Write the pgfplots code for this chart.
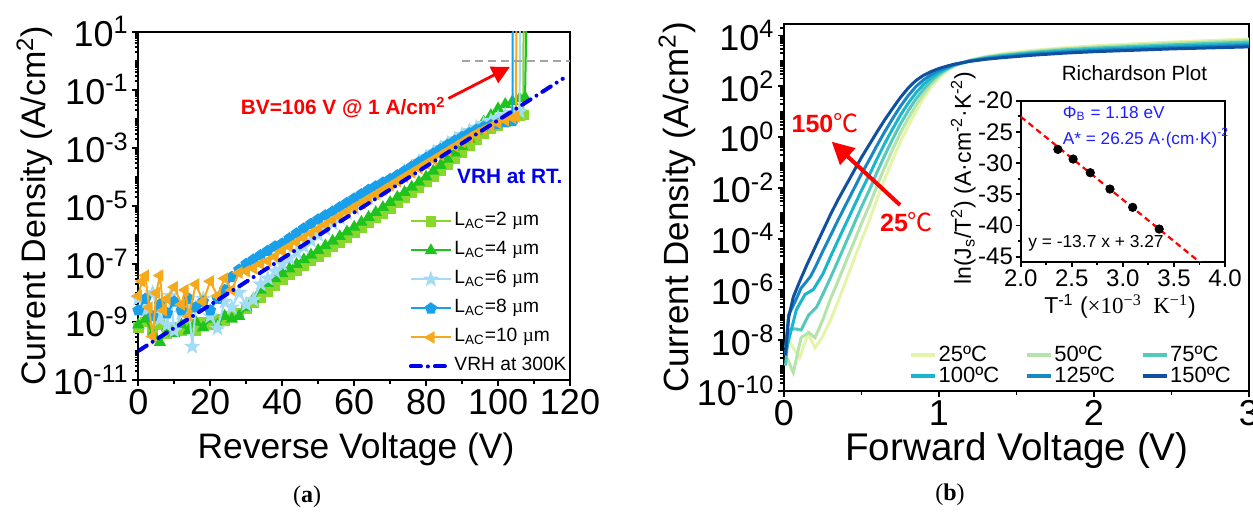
\documentclass[border=0pt]{standalone}
\usepackage{pgfplots}
\pgfplotsset{compat=1.18}
\usepackage{fontspec}
\setmainfont{Liberation Sans}
\newfontfamily\serif{Liberation Serif}
\newfontfamily\cjk{Noto Sans CJK SC}
\usetikzlibrary{arrows.meta}

\definecolor{cTwo}{RGB}{135,215,45}
\definecolor{cFour}{RGB}{30,195,30}
\definecolor{cSix}{RGB}{165,220,245}
\definecolor{cEight}{RGB}{25,160,235}
\definecolor{cTen}{RGB}{245,170,30}
\definecolor{vrh}{RGB}{0,0,235}
\definecolor{tA}{RGB}{228,245,170}
\definecolor{tB}{RGB}{180,228,170}
\definecolor{tC}{RGB}{85,200,190}
\definecolor{tD}{RGB}{25,180,205}
\definecolor{tE}{RGB}{25,135,195}
\definecolor{tF}{RGB}{15,80,160}
\definecolor{annred}{RGB}{255,0,0}
\definecolor{txtblue}{RGB}{30,30,255}
\definecolor{dgray}{RGB}{165,165,165}

% filled five-point star
\pgfdeclareplotmark{fstar}{%
  \pgfpathmoveto{\pgfpointpolar{90}{1.2\pgfplotmarksize}}%
  \pgfpathlineto{\pgfpointpolar{126}{0.5\pgfplotmarksize}}%
  \pgfpathlineto{\pgfpointpolar{162}{1.2\pgfplotmarksize}}%
  \pgfpathlineto{\pgfpointpolar{198}{0.5\pgfplotmarksize}}%
  \pgfpathlineto{\pgfpointpolar{234}{1.2\pgfplotmarksize}}%
  \pgfpathlineto{\pgfpointpolar{270}{0.5\pgfplotmarksize}}%
  \pgfpathlineto{\pgfpointpolar{306}{1.2\pgfplotmarksize}}%
  \pgfpathlineto{\pgfpointpolar{342}{0.5\pgfplotmarksize}}%
  \pgfpathlineto{\pgfpointpolar{18}{1.2\pgfplotmarksize}}%
  \pgfpathlineto{\pgfpointpolar{54}{0.5\pgfplotmarksize}}%
  \pgfpathclose\pgfusepathqfillstroke}

% log-style minor ticks (axes hold log10 of the current density)
\def\minA{-11}
\foreach \n in {-11,...,0}{\foreach \k in {0.301,0.477,0.602,0.699,0.778,0.845,0.903,0.954,1}{\pgfmathparse{\n+\k}\xdef\minA{\minA,\pgfmathresult}}}
\def\minB{-10}
\foreach \n in {-10,...,4}{\foreach \k in {0.301,0.477,0.602,0.699,0.778,0.845,0.903,0.954,1}{\pgfmathparse{\n+\k}\xdef\minB{\minB,\pgfmathresult}}}

\pgfplotsset{
  frame/.style={
    scale only axis, anchor=south west,
    tick pos=left, tick align=outside,
    major tick length=3pt, minor tick length=1.8pt,
    every tick/.style={black, line width=0.9pt},
    axis line style={line width=1.1pt},
    /pgf/number format/assume math mode=true,
    clip mode=individual,
  },
}

\begin{document}
\begin{tikzpicture}
\useasboundingbox (0,0) rectangle (626.5pt,255.5pt);

% ---------------- (a) reverse ----------------
\begin{axis}[frame,
  at={(69.15pt,65.5pt)}, width=215.85pt, height=174.15pt,
  xmin=0, xmax=120, ymin=-11, ymax=1,
  xtick={0,20,...,120}, minor x tick num=1,
  ytick={-11,-9,-7,-5,-3,-1,1},
  yticklabels={10\textsuperscript{-11},10\textsuperscript{-9},10\textsuperscript{-7},10\textsuperscript{-5},10\textsuperscript{-3},10\textsuperscript{-1},10\textsuperscript{1}},
  minor ytick/.expanded={\minA},
  tick label style={font=\fontsize{18}{20}\selectfont, inner sep=1.6pt},
  legend cell align=left,
  legend style={draw=none, fill=none, at={(0.612,0.5)}, anchor=north west,
    font=\fontsize{9.6}{11}\selectfont, row sep=3.3pt,
    nodes={inner sep=0.8pt, text height=7pt, text depth=2.6pt}},
  legend image code/.code={\draw[mark repeat=2,mark phase=2,#1] plot coordinates {(0pt,0pt) (10pt,0pt) (20pt,0pt)};},
]
\addplot[color=cTwo, line width=1pt, mark=square*, mark size=2.2pt, mark options={solid, fill=cTwo}] table {
0 -9.2
2 -9.0
4 -9.3
6 -9.1
8 -9.4
10 -9.2
12 -9.3
14 -9.1
16 -9.3
18 -9.0
20 -9.1
22 -8.9
24 -8.95
26 -8.8
28 -8.7
30 -8.55
32 -8.35
34 -8.15
36 -7.95
38 -7.75
40 -7.55
42 -7.38
44 -7.22
46 -7.06
48 -6.9
50 -6.74
52 -6.58
54 -6.42
56 -6.26
58 -6.1
60 -5.93
62 -5.76
64 -5.59
66 -5.42
68 -5.25
70 -5.08
72 -4.9
74 -4.72
76 -4.54
78 -4.36
80 -4.18
82 -3.98
84 -3.78
86 -3.57
88 -3.36
90 -3.15
92 -2.93
94 -2.72
96 -2.52
98 -2.35
100 -2.22
102 -2.1
104 -2.0
106 -1.9
107 -1.87
107.1 1.5
};
\addlegendentry{L\textsubscript{AC}=2 {\serif µ}m}
\addplot[color=cFour, line width=1pt, mark=triangle*, mark size=2.6pt, mark options={solid, fill=cFour}] table {
0 -9.1
2 -8.9
4 -9.4
6 -9.7
8 -9.2
10 -9.4
12 -9.1
14 -9.3
16 -9.0
18 -9.2
20 -8.9
22 -9.1
24 -8.8
26 -8.9
28 -8.8
30 -8.5
32 -8.2
34 -7.9
36 -7.67
38 -7.5
40 -7.33
42 -7.17
44 -7.01
46 -6.85
48 -6.69
50 -6.53
52 -6.37
54 -6.21
56 -6.05
58 -5.89
60 -5.73
62 -5.56
64 -5.39
66 -5.22
68 -5.05
70 -4.88
72 -4.7
74 -4.53
76 -4.35
78 -4.18
80 -4.0
82 -3.8
84 -3.6
86 -3.39
88 -3.17
90 -2.95
92 -2.7
94 -2.42
96 -2.1
98 -1.88
100 -1.65
102 -1.5
104 -1.4
106 -1.3
107.5 -1.26
107.9 1.5
};
\addlegendentry{L\textsubscript{AC}=4 {\serif µ}m}
\addplot[color=cSix, line width=1pt, mark=fstar, mark size=2.4pt, mark options={solid, fill=cSix}] table {
0 -8.2
2 -8.6
4 -8.0
6 -8.9
8 -9.1
9 -8.1
10 -9.3
12 -8.7
14 -8.4
15 -9.85
16 -8.5
18 -8.2
20 -8.8
22 -9.22
24 -8.3
26 -8.5
28 -8.0
30 -8.4
32 -8.24
34 -7.7
36 -7.5
38 -7.25
40 -7.0
42 -6.8
44 -6.6
46 -6.4
48 -6.2
50 -6.0
52 -5.8
54 -5.6
56 -5.42
58 -5.25
60 -5.08
62 -4.9
64 -4.72
66 -4.55
68 -4.38
70 -4.2
72 -4.02
74 -3.85
76 -3.67
78 -3.48
80 -3.32
82 -3.16
84 -3.0
86 -2.85
88 -2.7
90 -2.55
92 -2.42
94 -2.3
96 -2.18
98 -2.07
100 -1.97
102 -1.88
104 -1.8
106 -1.75
106.1 1.5
};
\addlegendentry{L\textsubscript{AC}=6 {\serif µ}m}
\addplot[color=cEight, line width=1pt, mark=pentagon*, mark size=2.5pt, mark options={solid, fill=cEight}] table {
0 -8.6
2 -8.2
4 -8.8
6 -8.4
8 -8.7
10 -8.3
12 -8.6
14 -8.2
16 -8.5
18 -8.3
20 -8.6
22 -8.2
24 -7.9
26 -7.45
28 -7.2
30 -7.0
32 -6.85
34 -6.7
36 -6.55
38 -6.4
40 -6.3
42 -6.12
44 -5.95
46 -5.78
48 -5.62
50 -5.47
52 -5.33
54 -5.2
56 -5.05
58 -4.9
60 -4.75
62 -4.6
64 -4.45
66 -4.33
68 -4.2
70 -4.08
72 -3.95
74 -3.8
76 -3.65
78 -3.5
80 -3.35
82 -3.2
84 -3.05
86 -2.9
88 -2.76
90 -2.63
92 -2.5
94 -2.38
96 -2.28
98 -2.22
100 -2.18
102 -2.12
104 -2.08
104.1 1.5
};
\addlegendentry{L\textsubscript{AC}=8 {\serif µ}m}
\addplot[color=cTen, line width=1pt, mark=triangle*, mark size=2.6pt, mark options={solid, fill=cTen, rotate=90}] table {
0 -8.1
1 -7.6
2 -7.4
3 -8.5
4 -9.5
5 -8.0
6 -7.4
7 -8.6
8 -8.2
10 -7.8
12 -8.4
13 -7.9
14 -8.8
16 -7.7
18 -8.3
20 -7.6
22 -8.1
24 -7.5
26 -7.9
28 -7.3
30 -7.25
32 -7.15
34 -7.0
36 -6.9
38 -6.75
40 -6.55
42 -6.4
44 -6.25
46 -6.1
48 -5.95
50 -5.8
52 -5.65
54 -5.5
56 -5.35
58 -5.2
60 -5.05
62 -4.9
64 -4.75
66 -4.6
68 -4.45
70 -4.3
72 -4.15
74 -4.0
76 -3.85
78 -3.7
80 -3.55
82 -3.4
84 -3.25
86 -3.1
88 -2.95
90 -2.8
92 -2.65
94 -2.5
96 -2.38
98 -2.26
100 -2.15
102 -2.05
104 -1.97
105 -1.93
105.1 1.5
};
\addlegendentry{L\textsubscript{AC}=10 {\serif µ}m}
\addplot[color=vrh, line width=2pt, line cap=round, dash pattern=on 5pt off 3.5pt on 0pt off 3.5pt] coordinates {(0,-10) (118,-0.62)};
\addlegendentry{VRH at 300K}

\draw[dgray, line width=1.2pt, dash pattern=on 4pt off 2.5pt] (axis cs:90,0) -- (axis cs:120,0);
\draw[annred, line width=1.4pt, -{Triangle[length=9pt,width=9pt]}] (axis cs:86.2,-1.3) -- (axis cs:103.3,-0.21);
\node[anchor=east, text=annred, font=\fontsize{10.4}{12}\selectfont\bfseries, inner sep=0pt] at (axis cs:85.5,-1.62) {BV=106 V @ 1 A/cm\textsuperscript{2}};
\node[anchor=east, text=vrh, font=\fontsize{10.4}{12}\selectfont\bfseries, inner sep=0pt] at (axis cs:118,-3.97) {VRH at RT.};
\end{axis}

% ---------------- (b) forward ----------------
\begin{axis}[frame,
  at={(392pt,60pt)}, width=232.5pt, height=183.5pt,
  xmin=0, xmax=3, ymin=-10, ymax=4.45,
  xtick={0,1,2,3}, minor x tick num=1,
  ytick={-10,-8,-6,-4,-2,0,2,4},
  yticklabels={10\textsuperscript{-10},10\textsuperscript{-8},10\textsuperscript{-6},10\textsuperscript{-4},10\textsuperscript{-2},10\textsuperscript{0},10\textsuperscript{2},10\textsuperscript{4}},
  minor ytick/.expanded={\minB},
  tick label style={font=\fontsize{18}{20}\selectfont, inner sep=1.6pt},
  legend columns=3,
  legend cell align=left,
  legend style={draw=none, fill=none, at={(0.255,0.138)}, anchor=north west,
    font=\fontsize{11}{13}\selectfont, row sep=0pt,
    nodes={inner sep=0.8pt, text height=7.8pt, text depth=1pt},
    /tikz/every even column/.append style={column sep=12pt}},
  legend image code/.code={\draw[#1, line width=2pt] (0pt,0pt) -- (12pt,0pt);},
]
\addplot[color=tA, line width=1.5pt] table {
0.02 -7.9
0.05 -8.2
0.1 -8.7
0.155 -7.75
0.2 -8.3
0.25 -7.85
0.3 -7.2
0.35 -6.45
0.4 -5.65
0.45 -4.85
0.5 -4.05
0.55 -3.3
0.6 -2.45
0.65 -1.65
0.7 -0.9
0.75 -0.2
0.8 0.42
0.85 1.0
0.9 1.52
0.95 1.97
1.0 2.33
1.05 2.6
1.1 2.8
1.2 3.03
1.3 3.17
1.4 3.27
1.6 3.41
1.8 3.51
2.0 3.59
2.5 3.74
3.0 3.86
};
\addlegendentry{25ºC}
\addplot[color=tB, line width=1.5pt] table {
0.02 -8.7
0.06 -9.27
0.11 -7.9
0.16 -7.7
0.2 -7.9
0.25 -7.2
0.3 -6.37
0.35 -5.65
0.4 -4.9
0.45 -4.15
0.5 -3.4
0.55 -2.7
0.6 -1.92
0.65 -1.18
0.7 -0.5
0.75 0.15
0.8 0.72
0.85 1.24
0.9 1.7
0.95 2.09
1.0 2.4
1.05 2.64
1.1 2.81
1.2 3.02
1.3 3.15
1.4 3.24
1.6 3.37
1.8 3.47
2.0 3.54
2.5 3.69
3.0 3.8
};
\addlegendentry{50ºC}
\addplot[color=tC, line width=1.5pt] table {
0.01 -9.0
0.03 -7.6
0.07 -7.55
0.11 -7.6
0.16 -7.0
0.21 -6.7
0.25 -6.2
0.3 -5.54
0.35 -4.85
0.4 -4.15
0.45 -3.45
0.5 -2.75
0.55 -2.1
0.6 -1.39
0.65 -0.72
0.7 -0.09
0.75 0.5
0.8 1.02
0.85 1.49
0.9 1.88
0.95 2.21
1.0 2.48
1.05 2.68
1.1 2.83
1.2 3.01
1.3 3.13
1.4 3.21
1.6 3.33
1.8 3.43
2.0 3.5
2.5 3.63
3.0 3.74
};
\addlegendentry{75ºC}
\addplot[color=tD, line width=1.5pt] table {
0.01 -8.5
0.03 -8.0
0.08 -6.8
0.135 -6.2
0.19 -6.0
0.25 -5.4
0.3 -4.71
0.35 -4.05
0.4 -3.4
0.45 -2.75
0.5 -2.1
0.55 -1.5
0.6 -0.86
0.65 -0.25
0.7 0.31
0.75 0.85
0.8 1.32
0.85 1.73
0.9 2.07
0.95 2.34
1.0 2.55
1.05 2.71
1.1 2.84
1.2 3.0
1.3 3.1
1.4 3.18
1.6 3.3
1.8 3.38
2.0 3.45
2.5 3.58
3.0 3.67
};
\addlegendentry{100ºC}
\addplot[color=tE, line width=1.5pt] table {
0.01 -8.3
0.03 -7.0
0.07 -6.5
0.11 -5.95
0.17 -5.5
0.2 -5.15
0.25 -4.5
0.3 -3.88
0.35 -3.25
0.4 -2.65
0.45 -2.05
0.5 -1.45
0.55 -0.9
0.6 -0.33
0.65 0.21
0.7 0.72
0.75 1.2
0.8 1.62
0.85 1.98
0.9 2.25
0.95 2.46
1.0 2.63
1.05 2.75
1.1 2.86
1.2 2.99
1.3 3.08
1.4 3.15
1.6 3.26
1.8 3.34
2.0 3.41
2.5 3.52
3.0 3.61
};
\addlegendentry{125ºC}
\addplot[color=tF, line width=1.5pt] table {
0.01 -8.6
0.03 -7.1
0.06 -6.3
0.1 -5.7
0.15 -5.0
0.2 -4.35
0.25 -3.7
0.3 -3.05
0.35 -2.45
0.4 -1.9
0.45 -1.35
0.5 -0.8
0.55 -0.3
0.6 0.2
0.65 0.68
0.7 1.12
0.75 1.55
0.8 1.92
0.85 2.22
0.9 2.43
0.95 2.58
1.0 2.7
1.05 2.79
1.1 2.87
1.2 2.98
1.3 3.06
1.4 3.12
1.6 3.22
1.8 3.3
2.0 3.36
2.5 3.47
3.0 3.55
};
\addlegendentry{150ºC}
\end{axis}

% ---------------- inset: Richardson plot ----------------
\begin{axis}[frame,
  at={(510.35pt,124.65pt)}, width=102.15pt, height=80.5pt,
  axis background/.style={fill=white},
  xmin=2, xmax=4, ymin=-45.8, ymax=-20,
  xtick={2,2.5,...,4}, minor x tick num=1,
  ytick={-45,-40,...,-20}, minor y tick num=1,
  major tick length=2.5pt, minor tick length=1.5pt,
  axis line style={line width=0.9pt},
  tick label style={font=\fontsize{12}{14}\selectfont, inner sep=1.2pt},
  xticklabel style={/pgf/number format/.cd, fixed, fixed zerofill, precision=1},
]
\addplot[annred, line width=1.1pt, dash pattern=on 3pt off 2pt] coordinates {(2.0,-22.56) (3.76,-45.97)};
\addplot[only marks, mark=*, mark size=2.1pt, black] coordinates {
(2.364,-27.8) (2.513,-29.35) (2.681,-31.54) (2.874,-34.16) (3.096,-37.09) (3.356,-40.57)};
\node[anchor=west, text=txtblue, font=\fontsize{8.6}{10}\selectfont, inner sep=0pt] at (axis cs:2.41,-22.0) {Φ\textsubscript{B} = 1.18 eV};
\node[anchor=west, text=txtblue, font=\fontsize{8.6}{10}\selectfont, inner sep=0pt] at (axis cs:2.41,-26.0) {A* = 26.25 A·(cm·K)\textsuperscript{-2}};
\node[anchor=west, font=\fontsize{8.7}{10}\selectfont, inner sep=0pt] at (axis cs:2.07,-42.76) {y = -13.7 x + 3.27};
\end{axis}

% ---------------- labels and notes ----------------
\node[rotate=90, font=\fontsize{17}{20}\selectfont] at (17.3pt,152.6pt) {Current Density (A/cm\textsuperscript{2})};
\node[font=\fontsize{17.7}{20}\selectfont] at (178pt,30.8pt) {Reverse Voltage (V)};
\node[rotate=90, font=\fontsize{17.5}{20}\selectfont] at (338.5pt,151.75pt) {Current Density (A/cm\textsuperscript{2})};
\node[font=\fontsize{19.3}{22}\selectfont] at (508.5pt,30.3pt) {Forward Voltage (V)};
\node[font=\fontsize{12}{14}\selectfont\serif] at (153.5pt,7.15pt) {(\textbf{a})};
\node[font=\fontsize{12}{14}\selectfont\serif] at (475pt,8pt) {(\textbf{b})};

\node[font=\fontsize{10.3}{12}\selectfont] at (567.25pt,218.85pt) {Richardson Plot};
\node[rotate=90, font=\fontsize{11.5}{13}\selectfont] at (481.65pt,166.5pt) {ln(J\textsubscript{s}/T\textsuperscript{2}) (A·cm\textsuperscript{-2}·K\textsuperscript{-2})};
\node[font=\fontsize{11.5}{13}\selectfont] at (560pt,102.3pt) {T\textsuperscript{-1} ({\serif ×10\textsuperscript{−3}\ \ K\textsuperscript{−1}})};

\draw[annred, line width=2pt, -{Triangle[length=11pt,width=11pt]}] (450pt,153pt) -- (415.85pt,184.65pt);
\node[text=annred, font=\fontsize{12.5}{14}\selectfont] at (412.5pt,193.85pt) {\textbf{150}{\cjk ℃}};
\node[text=annred, font=\fontsize{12.5}{14}\selectfont] at (453.25pt,144.65pt) {\textbf{25}{\cjk ℃}};
\end{tikzpicture}
\end{document}
